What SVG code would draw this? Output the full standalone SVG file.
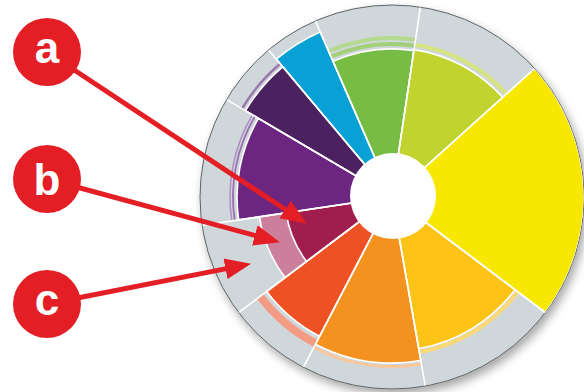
<svg xmlns="http://www.w3.org/2000/svg" width="584" height="392" viewBox="0 0 584 392">
<defs>
<filter id="sh" x="-10%" y="-10%" width="125%" height="125%">
<feDropShadow dx="3" dy="5" stdDeviation="5" flood-color="#000" flood-opacity="0.35"/>
</filter>
<marker id="ah" markerUnits="userSpaceOnUse" markerWidth="27" markerHeight="23" viewBox="0 -11.5 27 23" refX="1" refY="0" orient="auto">
<path d="M0,-10.5 L26,0 L0,10.5 Z" fill="#e31e25"/>
</marker>
<clipPath id="disc"><circle cx="392" cy="197" r="191.5"/></clipPath>
</defs>
<style>
.sec{stroke:#fff;stroke-width:1.6;stroke-linejoin:round}
.acc{fill:none;stroke-linecap:butt}
.spoke{stroke:#fff;stroke-width:1.6}
.conn{stroke:#e31e25;stroke-width:5;fill:none;marker-end:url(#ah)}
.lbl{fill:#e31e25}
.lt{fill:#fff;font-family:"Liberation Sans",Arial,sans-serif;font-weight:bold;font-size:44px;text-anchor:middle}
</style>
<rect width="584" height="392" fill="#fff"/>
<g id="wheel">
<circle cx="392" cy="197" r="192" fill="#cfd7da" stroke="#5f6466" stroke-width="1" filter="url(#sh)"/>
<g clip-path="url(#disc)">
<g id="blue"><path class="sec" d="M392,197 L276.3,59.1 A180,180 0 0 1 320.2,31.9 Z" fill="#08a1d6"/></g>
<g id="green">
<path class="acc" d="M328.6,51.2 A159,159 0 0 1 415.5,39.7" stroke="#b4d98f" stroke-width="4"/>
<path class="acc" d="M331.0,56.7 A153,153 0 0 1 414.6,45.7" stroke="#a2cf78" stroke-width="4"/>
<path class="sec" d="M392,197 L333.0,61.3 A148,148 0 0 1 413.9,50.6 Z" fill="#77bc43"/>
</g>
<g id="yellow-green">
<path class="acc" d="M414.8,44.7 A154,154 0 0 1 506.4,94.0" stroke="#d6e382" stroke-width="4"/>
<path class="sec" d="M392,197 L414.0,49.6 A149,149 0 0 1 502.7,97.3 Z" fill="#c1d32f"/>
</g>
<g id="yellow"><path class="sec" d="M392,197 L534.7,68.5 A192,192 0 0 1 545.3,312.5 Z" fill="#f8e700"/></g>
<g id="yellow-orange">
<path class="acc" d="M517.8,291.8 A157.5,157.5 0 0 1 419.3,352.1" stroke="#fcd978" stroke-width="4"/>
<path class="sec" d="M392,197 L515.0,289.7 A154,154 0 0 1 418.7,348.7 Z" fill="#fdc316"/>
</g>
<g id="orange">
<path class="acc" d="M421.4,363.9 A169.5,169.5 0 0 1 313.7,347.3" stroke="#f9c79a" stroke-width="3"/>
<path class="sec" d="M392,197 L420.8,360.5 A166,166 0 0 1 315.4,344.2 Z" fill="#f3921f"/>
</g>
<g id="red-orange">
<path class="acc" d="M315.8,343.4 A165,165 0 0 1 260.2,296.3" stroke="#f49b84" stroke-width="8"/>
<path class="sec" d="M392,197 L319.5,336.3 A157,157 0 0 1 266.6,291.5 Z" fill="#ee5124"/>
</g>
<g id="red-violet">
<path class="sec" d="M392,197 L285.0,277.6 A134,134 0 0 1 259.5,216.8 Z" fill="#cc7f9c"/>
<path class="sec" d="M392,197 L306.5,261.4 A107,107 0 0 1 286.2,212.8 Z" fill="#a11d4e"/>
</g>
<g id="violet">
<path class="acc" d="M231.8,220.9 A162,162 0 0 1 252.4,114.8" stroke="#b08cc4" stroke-width="1.5"/>
<path class="acc" d="M234.7,220.5 A159,159 0 0 1 255.0,116.3" stroke="#9c6fb2" stroke-width="1.8"/>
<path class="sec" d="M392,197 L238.7,219.9 A155,155 0 0 1 258.5,118.3 Z" fill="#6c2681"/>
</g>
<g id="dark-violet">
<path class="acc" d="M242.1,108.7 A174,174 0 0 1 280.2,63.7" stroke="#9a78ad" stroke-width="2.5"/>
<path class="sec" d="M392,197 L245.5,110.7 A170,170 0 0 1 282.7,66.8 Z" fill="#4c2160"/>
</g>
<g id="spokes">
<line class="spoke" x1="392" y1="197" x2="268.6" y2="49.9"/>
<line class="spoke" x1="392" y1="197" x2="315.4" y2="20.9"/>
<line class="spoke" x1="392" y1="197" x2="420.4" y2="7.1"/>
<line class="spoke" x1="392" y1="197" x2="534.7" y2="68.5"/>
<line class="spoke" x1="392" y1="197" x2="545.3" y2="312.5"/>
<line class="spoke" x1="392" y1="197" x2="425.3" y2="386.1"/>
<line class="spoke" x1="392" y1="197" x2="303.4" y2="367.3"/>
<line class="spoke" x1="392" y1="197" x2="238.7" y2="312.5"/>
<line class="spoke" x1="392" y1="197" x2="202.1" y2="225.4"/>
<line class="spoke" x1="392" y1="197" x2="226.6" y2="99.6"/>
</g>
</g>
<circle cx="393" cy="196" r="43" fill="#fff"/>
</g>
<g id="connectors">
<line class="conn" x1="47" y1="52" x2="286" y2="210"/>
<line class="conn" x1="47" y1="179" x2="255.8" y2="235.7"/>
<line class="conn" x1="47" y1="304" x2="226.5" y2="268.6"/>
</g>
<g id="label-a"><circle class="lbl" cx="47" cy="52" r="34"/><text class="lt" x="47" y="63">a</text></g>
<g id="label-b"><circle class="lbl" cx="47" cy="179" r="34"/><text class="lt" x="47" y="195">b</text></g>
<g id="label-c"><circle class="lbl" cx="47" cy="304" r="34"/><text class="lt" x="47" y="315">c</text></g>
</svg>
